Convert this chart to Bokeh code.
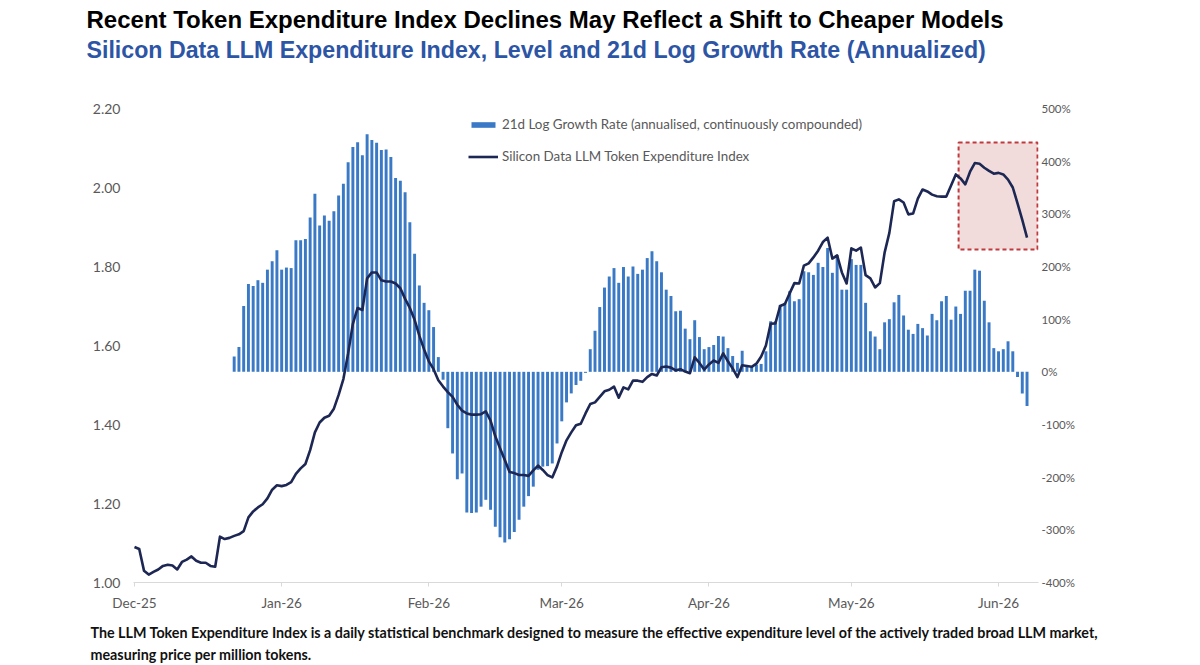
import pandas as pd
from bokeh.plotting import figure
from bokeh.models import (Range1d, LinearAxis, FixedTicker, PrintfTickFormatter,
                          DatetimeTickFormatter, MonthsTicker, Title, Legend, LegendItem,
                          BoxAnnotation)
from bokeh.embed import file_html
from bokeh.resources import INLINE

# ---------------- data ----------------
title_text = "Recent Token Expenditure Index Declines May Reflect a Shift to Cheaper Models"
subtitle_text = "Silicon Data LLM Expenditure Index, Level and 21d Log Growth Rate (Annualized)"
footnote_line1 = ("The LLM Token Expenditure Index is a daily statistical benchmark designed to measure "
                  "the effective expenditure level of the actively traded broad LLM market,")
footnote_line2 = "measuring price per million tokens."
bar_label = "21d Log Growth Rate (annualised, continuously compounded)"
line_label = "Silicon Data LLM Token Expenditure Index"

index_start = "2025-12-01"
index_level = [
    1.09, 1.085, 1.03, 1.02, 1.027, 1.033, 1.042, 1.045, 1.043, 1.033,
    1.052, 1.058, 1.066, 1.055, 1.05, 1.05, 1.042, 1.04, 1.116, 1.11,
    1.113, 1.118, 1.122, 1.13, 1.165, 1.18, 1.19, 1.198, 1.213, 1.235,
    1.246, 1.244, 1.247, 1.254, 1.275, 1.289, 1.3, 1.335, 1.38, 1.405,
    1.417, 1.422, 1.44, 1.475, 1.515, 1.58, 1.655, 1.695, 1.69, 1.77,
    1.785, 1.785, 1.765, 1.762, 1.762, 1.757, 1.745, 1.718, 1.695, 1.665,
    1.625, 1.59, 1.56, 1.54, 1.512, 1.496, 1.482, 1.47, 1.45, 1.435,
    1.428, 1.425, 1.425, 1.426, 1.433, 1.41, 1.37, 1.34, 1.31, 1.28,
    1.277, 1.272, 1.272, 1.27, 1.284, 1.296, 1.285, 1.272, 1.266, 1.294,
    1.33, 1.36, 1.38, 1.398, 1.402, 1.428, 1.452, 1.456, 1.47, 1.484,
    1.488, 1.496, 1.468, 1.494, 1.489, 1.511, 1.511, 1.508, 1.52, 1.528,
    1.524, 1.545, 1.547, 1.544, 1.537, 1.54, 1.534, 1.53, 1.57, 1.556,
    1.539, 1.552, 1.562, 1.556, 1.58, 1.56, 1.542, 1.52, 1.55, 1.548,
    1.546, 1.554, 1.572, 1.6, 1.655, 1.656, 1.7, 1.705, 1.732, 1.758,
    1.757, 1.802, 1.808, 1.823, 1.84, 1.862, 1.873, 1.82, 1.828, 1.785,
    1.757, 1.846, 1.84, 1.848, 1.778, 1.77, 1.747, 1.758, 1.835, 1.885,
    1.965, 1.97, 1.962, 1.932, 1.934, 1.972, 1.995, 1.99, 1.982, 1.978,
    1.977, 1.977, 2.005, 2.033, 2.023, 2.008, 2.04, 2.062, 2.06, 2.05,
    2.042, 2.035, 2.037, 2.033, 2.02, 2.0, 1.96, 1.918, 1.873,
]

growth_start = "2025-12-22"
growth_rate_pct = [
    29, 47, 125, 167, 163, 174, 169, 194, 210, 231,
    194, 198, 197, 250, 250, 252, 293, 338, 278, 297,
    287, 305, 335, 357, 398, 427, 436, 411, 451, 440,
    435, 421, 422, 408, 368, 363, 341, 284, 224, 164,
    131, 117, 85, 28, -15, -107, -155, -204, -193, -267,
    -268, -267, -256, -243, -262, -294, -314, -324, -318, -304,
    -281, -256, -236, -218, -186, -180, -179, -174, -136, -94,
    -58, -41, -25, -17, -2, 43, 78, 123, 160, 181,
    197, 169, 199, 181, 200, 186, 194, 216, 229, 210,
    189, 156, 144, 115, 116, 82, 62, 98, 66, 43,
    47, 51, 68, 67, 45, 30, 17, 40, 10, 11,
    13, 15, 39, 96, 96, 127, 131, 153, 134, 138,
    191, 189, 184, 207, 199, 235, 188, 222, 156, 156,
    214, 203, 203, 131, 77, 67, 43, 94, 100, 132,
    146, 107, 80, 72, 91, 83, 69, 110, 98, 134,
    144, 99, 124, 110, 154, 154, 194, 192, 135, 94,
    45, 39, 43, 58, 39, -10, -41, -65,
]

left_ticks = [1.0, 1.2, 1.4, 1.6, 1.8, 2.0, 2.2]
right_ticks = [-400, -300, -200, -100, 0, 100, 200, 300, 400, 500]

# highlighted window (annotation)
highlight_start = "2026-05-23 14:00"
highlight_end = "2026-06-09 05:00"
highlight_low = 1.843
highlight_high = 2.114

axis_start = "2025-11-30 19:00"
axis_end = "2026-06-09 10:00"

# ---------------- derived ----------------
line_dates = pd.date_range(index_start, periods=len(index_level), freq="D")
bar_dates = pd.date_range(growth_start, periods=len(growth_rate_pct), freq="D")
DAY_MS = 86400000
x_start = pd.Timestamp(axis_start)
x_end = pd.Timestamp(axis_end)

# ---------------- figure ----------------
p = figure(width=1200, height=665, x_axis_type="datetime",
           x_range=Range1d(x_start, x_end),
           y_range=Range1d(left_ticks[0], left_ticks[-1]),
           output_backend="svg", toolbar_location=None, title=None,
           min_border_left=133, min_border_right=162,
           min_border_top=108, min_border_bottom=83)
p.extra_y_ranges = {"pct": Range1d(right_ticks[0], right_ticks[-1])}
p.outline_line_color = None
p.xgrid.visible = False
p.ygrid.visible = False
p.background_fill_color = "white"
p.border_fill_color = "white"

box = BoxAnnotation(left=pd.Timestamp(highlight_start), right=pd.Timestamp(highlight_end),
                    bottom=highlight_low, top=highlight_high,
                    fill_color="#f2dcdb", fill_alpha=1.0,
                    line_color="#c0393c", line_alpha=1.0, line_width=2, line_dash="4 3",
                    level="underlay")
p.add_layout(box)

bars = p.vbar(x=bar_dates, top=growth_rate_pct, bottom=0, width=0.62 * DAY_MS,
              y_range_name="pct", fill_color="#3a79c5", line_color=None)
line = p.line(x=line_dates, y=index_level, line_color="#1d2754", line_width=2.6,
              line_join="round")

# x axis
xa = p.xaxis[0]
xa.ticker = MonthsTicker(months=list(range(12)))
xa.formatter = DatetimeTickFormatter(months="%b-%y", days="%b-%y", years="%b-%y")
xa.axis_line_color = "#d9d9d9"
xa.major_tick_line_color = "#d9d9d9"
xa.major_tick_in = 0
xa.major_tick_out = 4
xa.minor_tick_line_color = None
xa.major_label_standoff = 8
xa.major_label_text_font = "Lato"
xa.major_label_text_font_size = "13.5px"
xa.major_label_text_color = "#595959"

# left axis
ya = p.yaxis[0]
ya.ticker = FixedTicker(ticks=left_ticks)
ya.formatter = PrintfTickFormatter(format="%.2f")
ya.axis_line_color = None
ya.major_tick_line_color = None
ya.minor_tick_line_color = None
ya.major_tick_out = 0
ya.major_tick_in = 0
ya.major_label_standoff = 13
ya.major_label_text_font = "Lato"
ya.major_label_text_font_size = "14px"
ya.major_label_text_color = "#595959"

# right axis
ra = LinearAxis(y_range_name="pct", ticker=FixedTicker(ticks=right_ticks),
                formatter=PrintfTickFormatter(format="%d%%"),
                axis_line_color=None, major_tick_line_color=None,
                minor_tick_line_color=None, major_tick_out=0, major_tick_in=0,
                major_label_standoff=3, major_label_text_font="Lato",
                major_label_text_font_size="11.5px", major_label_text_color="#595959")
p.add_layout(ra, "right")

# legend
legend = Legend(items=[LegendItem(label=bar_label, renderers=[bars]),
                       LegendItem(label=line_label, renderers=[line])],
                location=(335, 418), orientation="vertical",
                glyph_width=30, glyph_height=7, label_height=16, spacing=16,
                padding=0, margin=0, border_line_color=None, background_fill_alpha=0,
                label_text_font="Lato", label_text_font_size="13.4px",
                label_text_color="#595959", label_standoff=4)
p.add_layout(legend, "center")

# spacer between subtitle and plot area: an unlabeled axis with one white tick
spacer_tick = x_start.value // 10**6
top_spacer = LinearAxis(ticker=FixedTicker(ticks=[spacer_tick]),
                        major_tick_out=47, major_tick_in=0,
                        major_tick_line_color="white", minor_tick_out=0, minor_tick_in=0,
                        minor_tick_line_color=None, axis_line_color=None,
                        major_label_standoff=0, major_label_text_color=None,
                        major_label_text_font_size="1px",
                        major_label_overrides={spacer_tick: ""})
p.add_layout(top_spacer, "above")
p.add_layout(Title(text=subtitle_text, align="left", offset=-47, standoff=-3,
                   text_font="Liberation Sans", text_font_size="23.2px",
                   text_font_style="bold", text_color="#2d55a5"), "above")
p.add_layout(Title(text=title_text, align="left", offset=-47, standoff=7,
                   text_font="Liberation Sans", text_font_size="24px",
                   text_font_style="bold", text_color="#000000"), "above")

# footnote (below)
p.add_layout(Title(text=footnote_line1, align="left", offset=-43, standoff=16,
                   text_font="Lato", text_font_size="14.3px",
                   text_font_style="bold", text_color="#111111"), "below")
p.add_layout(Title(text=footnote_line2, align="left", offset=-43, standoff=-9,
                   text_font="Lato", text_font_size="14.3px",
                   text_font_style="bold", text_color="#111111"), "below")

open("out.html", "w").write(file_html(p, INLINE))
